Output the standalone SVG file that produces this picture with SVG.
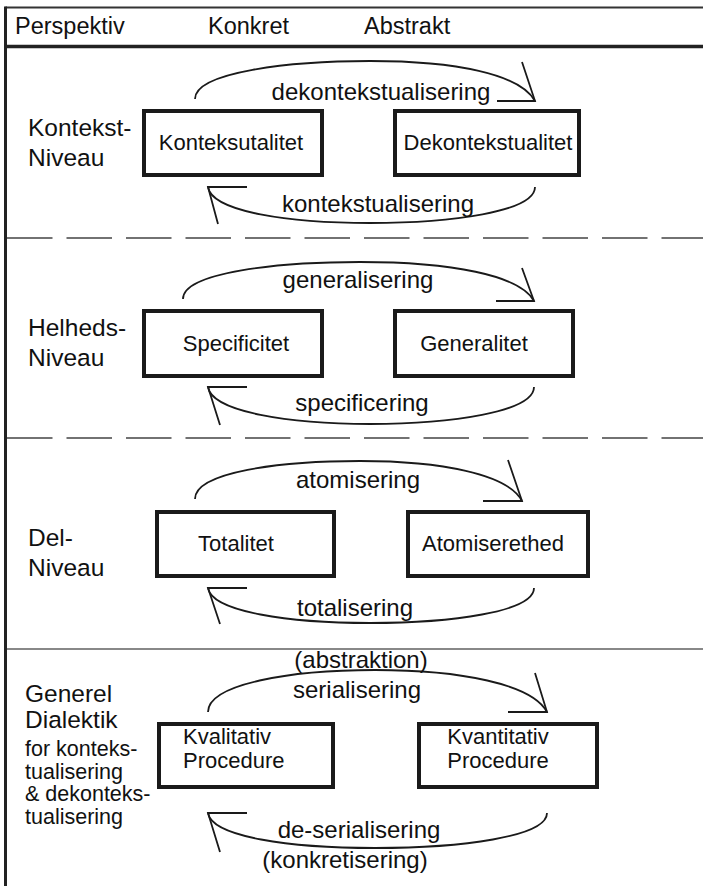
<svg xmlns="http://www.w3.org/2000/svg" width="703" height="886" viewBox="0 0 703 886">
<style>
text{font-family:"Liberation Sans",Arial,sans-serif;fill:#111}
.hdr{font-size:23.5px}
.lvl{font-size:24.5px}
.sub{font-size:21.5px}
.box{fill:#fff;stroke:#1a1a1a;stroke-width:4}
.bl{font-size:22px;text-anchor:middle}
.al{font-size:24px;text-anchor:middle}
.arc{fill:none;stroke:#1a1a1a;stroke-width:1.8}
.dash{stroke:#444;stroke-width:1.6;stroke-dasharray:45.5 14}
</style>
<rect width="703" height="886" fill="#fff"/>
<g id="frame">
<line x1="5.5" y1="7.5" x2="703" y2="7.5" stroke="#333" stroke-width="2"/>
<line x1="5.5" y1="6.5" x2="5.5" y2="886" stroke="#222" stroke-width="3"/>
<line x1="5" y1="46.5" x2="703" y2="46.5" stroke="#222" stroke-width="3.5"/>
<line x1="7" y1="238" x2="703" y2="238" class="dash"/>
<line x1="7" y1="438" x2="703" y2="438" class="dash"/>
<line x1="7" y1="649" x2="703" y2="649" stroke="#888" stroke-width="1.8"/>
</g>
<g id="header">
<text class="hdr" x="15" y="34">Perspektiv</text>
<text class="hdr" x="208" y="34">Konkret</text>
<text class="hdr" x="364" y="34">Abstrakt</text>
</g>
<g id="level-labels">
<text class="lvl" x="28" y="136">Kontekst-</text>
<text class="lvl" x="28" y="166">Niveau</text>
<text class="lvl" x="28" y="336">Helheds-</text>
<text class="lvl" x="28" y="366">Niveau</text>
<text class="lvl" x="28" y="546">Del-</text>
<text class="lvl" x="28" y="576">Niveau</text>
<text class="lvl" x="25" y="702">Generel</text>
<text class="lvl" x="25" y="728">Dialektik</text>
<text class="sub" x="25" y="756">for konteks-</text>
<text class="sub" x="25" y="779">tualisering</text>
<text class="sub" x="25" y="801">&amp; dekonteks-</text>
<text class="sub" x="25" y="824">tualisering</text>
</g>
<g id="n-kontekstualitet"><rect class="box" x="144" y="111" width="178" height="64"/><text class="bl" x="231" y="150">Konteksutalitet</text></g>
<g id="n-dekontekstualitet"><rect class="box" x="395" y="111" width="184" height="64"/><text class="bl" x="488" y="150">Dekontekstualitet</text></g>
<g id="n-specificitet"><rect class="box" x="144" y="311" width="178" height="65"/><text class="bl" x="236" y="351">Specificitet</text></g>
<g id="n-generalitet"><rect class="box" x="395" y="311" width="178" height="65"/><text class="bl" x="474" y="351">Generalitet</text></g>
<g id="n-totalitet"><rect class="box" x="157" y="512" width="177" height="64"/><text class="bl" x="236" y="551">Totalitet</text></g>
<g id="n-atomiserethed"><rect class="box" x="408" y="512" width="180" height="64"/><text class="bl" x="493" y="551">Atomiserethed</text></g>
<g id="n-kvalitativ"><rect class="box" x="159" y="724" width="174" height="63"/><text class="bl" x="183" y="744" style="text-anchor:start">Kvalitativ</text><text class="bl" x="183" y="768" style="text-anchor:start">Procedure</text></g>
<g id="n-kvantitativ"><rect class="box" x="419" y="724" width="178" height="63"/><text class="bl" x="498" y="744">Kvantitativ</text><text class="bl" x="498" y="768">Procedure</text></g>
<g id="connectors">
<path class="arc" d="M195,99 C195,72 290,61 370,61 C455,61 520,74 535,101"/>
<path class="arc" d="M522,62 L535,101 L497,101"/>
<path class="arc" d="M535,187 C535,212 450,223 370,223 C290,223 212,212 208,187"/>
<path class="arc" d="M218,224 L208,187 L247,187"/>
<path class="arc" d="M183,299 C183,272 280,262 360,262 C450,262 520,275 534,301"/>
<path class="arc" d="M522,268 L534,301 L496,301"/>
<path class="arc" d="M534,387 C534,412 450,424 370,424 C290,424 212,412 208,387"/>
<path class="arc" d="M220,425 L208,387 L247,387"/>
<path class="arc" d="M195,499 C195,472 280,461 360,461 C440,461 508,474 522,501"/>
<path class="arc" d="M508,460 L522,501 L483,501"/>
<path class="arc" d="M534,588 C534,612 450,623 370,623 C290,623 212,612 208,588"/>
<path class="arc" d="M220,624 L208,588 L247,588"/>
<path class="arc" d="M208,712 C208,684 290,670 375,670 C460,670 532,684 547,712"/>
<path class="arc" d="M535,673 L547,712 L508,712"/>
<path class="arc" d="M547,813 C547,837 460,848 375,848 C290,848 212,837 208,813"/>
<path class="arc" d="M220,852 L208,813 L247,813"/>
</g>
<g id="connector-labels">
<text class="al" x="381" y="100">dekontekstualisering</text>
<text class="al" x="378" y="212">kontekstualisering</text>
<text class="al" x="358" y="288">generalisering</text>
<text class="al" x="362" y="411">specificering</text>
<text class="al" x="358" y="488">atomisering</text>
<text class="al" x="355" y="616">totalisering</text>
<text class="al" x="361" y="668">(abstraktion)</text>
<text class="al" x="357" y="698">serialisering</text>
<text class="al" x="359" y="838">de-serialisering</text>
<text class="al" x="345" y="868">(konkretisering)</text>
</g>
</svg>
